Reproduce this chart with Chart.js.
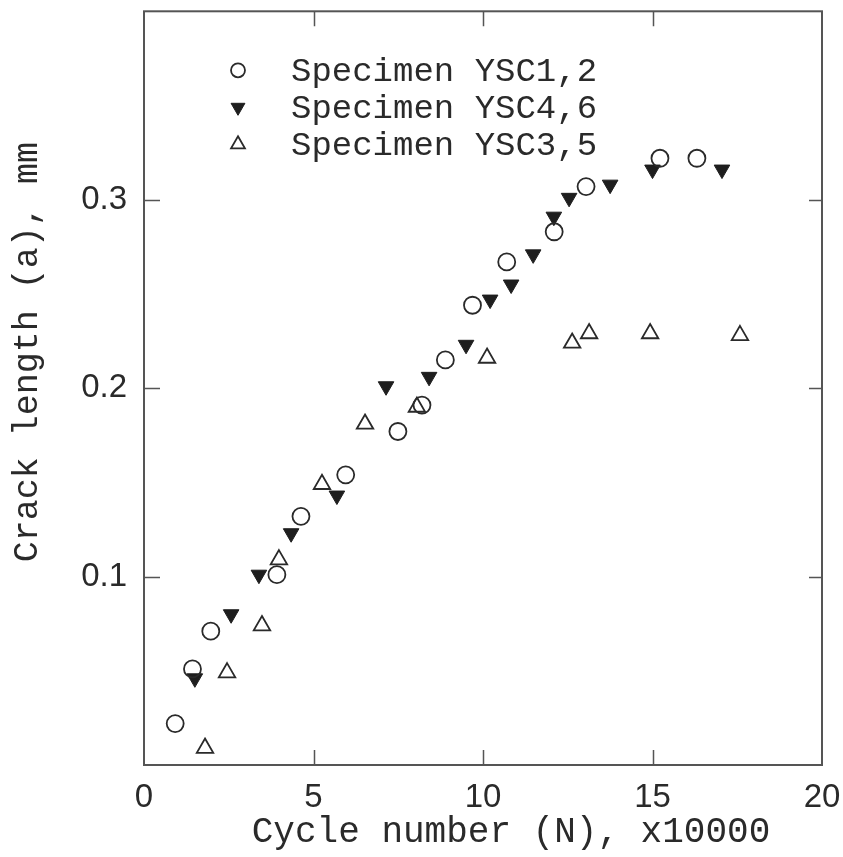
<!DOCTYPE html>
<html>
<head>
<meta charset="utf-8">
<script src="https://cdn.jsdelivr.net/npm/chart.js@4.4.0/dist/chart.umd.min.js"></script>
<style>
  html, body { margin: 0; padding: 0; background: #ffffff; }
  #wrap { width: 843px; height: 857px; }
</style>
</head>
<body>
<div id="wrap"><canvas id="crackChart" width="843" height="857"></canvas></div>
<script>
// Specimen YSC1,2 (open circles)
const ysc12Cycles = [0.92, 1.43, 1.97, 3.92, 4.63, 5.95, 7.49, 8.2, 8.89, 9.69, 10.7, 12.1, 13.04, 15.22, 16.31];
const ysc12Crack = [0.022, 0.051, 0.071, 0.101, 0.132, 0.154, 0.177, 0.191, 0.215, 0.244, 0.267, 0.283, 0.307, 0.322, 0.322];

// Specimen YSC4,6 (filled down triangles)
const ysc46Cycles = [1.5, 2.57, 3.39, 4.34, 5.69, 7.14, 8.41, 9.5, 10.21, 10.83, 11.48, 12.09, 12.54, 13.75, 15.0, 17.05];
const ysc46Crack = [0.046, 0.080, 0.101, 0.123, 0.143, 0.201, 0.206, 0.223, 0.247, 0.255, 0.271, 0.291, 0.301, 0.308, 0.316, 0.316];

// Specimen YSC3,5 (open up triangles)
const ysc35Cycles = [1.8, 2.45, 3.48, 3.98, 5.25, 6.52, 8.05, 10.12, 12.63, 13.13, 14.93, 17.58];
const ysc35Crack = [0.009, 0.049, 0.074, 0.109, 0.149, 0.181, 0.190, 0.216, 0.224, 0.229, 0.229, 0.228];

const seriesLabels = ['Specimen YSC1,2', 'Specimen YSC4,6', 'Specimen YSC3,5'];
const xTitle = 'Cycle number (N), x10000';
const yTitle = 'Crack length (a), mm';

// tick marks / labels
const xTickMarks = [5, 10, 15];
const yTickMarks = [0.1, 0.2, 0.3];
const yTickLabels = ['0.1', '0.2', '0.3'];

const ink = '#2a2a2a';
const monoFont = '"Liberation Mono", "Courier New", monospace';
const sansFont = '"Liberation Sans", Arial, sans-serif';

function toPoints(xs, ys) {
    return xs.map((x, i) => ({ x: x, y: ys[i] }));
}

// frame, inward ticks, axis titles and the in-plot legend
const framePlugin = {
    id: 'frame',
    afterDraw(chart) {
        const ctx = chart.ctx;
        const area = chart.chartArea;
        const xs = chart.scales.x;
        const ys = chart.scales.y;
        ctx.save();
        ctx.strokeStyle = '#555';
        ctx.lineWidth = 2;
        ctx.strokeRect(area.left, area.top, area.right - area.left, area.bottom - area.top);

        ctx.lineWidth = 1.5;
        ctx.beginPath();
        xTickMarks.forEach(v => {
            const px = Math.round(xs.getPixelForValue(v)) + 0.5;
            ctx.moveTo(px, area.bottom);
            ctx.lineTo(px, area.bottom - 15);
            ctx.moveTo(px, area.top);
            ctx.lineTo(px, area.top + 15);
        });
        yTickMarks.forEach(v => {
            const py = Math.round(ys.getPixelForValue(v)) + 0.5;
            ctx.moveTo(area.left, py);
            ctx.lineTo(area.left + 16, py);
            ctx.moveTo(area.right, py);
            ctx.lineTo(area.right - 13, py);
        });
        ctx.stroke();

        // axis titles (sit a bit off-centre in the original)
        ctx.fillStyle = ink;
        ctx.font = '36px ' + monoFont;
        ctx.textAlign = 'center';
        ctx.textBaseline = 'alphabetic';
        ctx.fillText(xTitle, (area.left + area.right) / 2 + 28, 842);
        ctx.save();
        ctx.translate(37, (area.top + area.bottom) / 2 - 36);
        ctx.rotate(-Math.PI / 2);
        ctx.font = '35px ' + monoFont;
        ctx.fillText(yTitle, 0, 0);
        ctx.restore();

        // legend
        const markerX = area.left + 94;
        const textX = area.left + 147;
        const rowY = [area.top + 59, area.top + 96, area.top + 133];
        ctx.font = '34px ' + monoFont;
        ctx.textBaseline = 'middle';
        ctx.textAlign = 'left';
        chart.data.datasets.forEach((ds, i) => {
            ctx.fillStyle = ds.backgroundColor;
            ctx.strokeStyle = ds.borderColor;
            ctx.lineWidth = ds.borderWidth;
            Chart.helpers.drawPoint(ctx, {
                pointStyle: ds.pointStyle,
                rotation: ds.rotation || 0,
                radius: ds.legendRadius,
                borderWidth: ds.borderWidth
            }, markerX, rowY[i]);
            ctx.fillStyle = ink;
            ctx.fillText(ds.label, textX, rowY[i] + 2);
        });
        ctx.restore();
    }
};

const ctx = document.getElementById('crackChart').getContext('2d');
const crackChart = new Chart(ctx, {
    type: 'scatter',
    data: {
        datasets: [{
            label: seriesLabels[0],
            data: toPoints(ysc12Cycles, ysc12Crack),
            pointStyle: 'circle',
            pointRadius: 8.5,
            legendRadius: 7,
            backgroundColor: 'rgba(255,255,255,0)',
            borderColor: ink,
            borderWidth: 1.8
        }, {
            label: seriesLabels[1],
            data: toPoints(ysc46Cycles, ysc46Crack),
            pointStyle: 'triangle',
            rotation: 180,
            pointRotation: 180,
            pointRadius: 9,
            legendRadius: 8,
            backgroundColor: '#1e1e1e',
            borderColor: '#1e1e1e',
            borderWidth: 1
        }, {
            label: seriesLabels[2],
            data: toPoints(ysc35Cycles, ysc35Crack),
            pointStyle: 'triangle',
            pointRadius: 9.5,
            legendRadius: 8,
            backgroundColor: 'rgba(255,255,255,0)',
            borderColor: ink,
            borderWidth: 1.8
        }]
    },
    options: {
        responsive: false,
        animation: false,
        devicePixelRatio: 1,
        layout: {
            padding: { top: 11, right: 21, left: 0, bottom: 0 }
        },
        plugins: {
            legend: { display: false },
            tooltip: { enabled: false }
        },
        scales: {
            x: {
                type: 'linear',
                min: 0,
                max: 20,
                afterFit(scale) {
                    scale.height = 92;
                    scale.paddingLeft = 0;
                    scale.paddingRight = 0;
                },
                border: { display: false },
                grid: { display: false, drawTicks: false },
                ticks: {
                    stepSize: 5,
                    padding: 13,
                    color: ink,
                    font: { family: sansFont, size: 33 }
                }
            },
            y: {
                type: 'linear',
                min: 0,
                max: 0.4,
                afterFit(scale) {
                    scale.width = 144;
                    scale.paddingTop = 0;
                    scale.paddingBottom = 0;
                },
                border: { display: false },
                grid: { display: false, drawTicks: false },
                ticks: {
                    stepSize: 0.1,
                    padding: 17,
                    color: ink,
                    font: { family: sansFont, size: 33 },
                    callback: function(value) {
                        const label = value.toFixed(1);
                        return yTickLabels.includes(label) ? label : '';
                    }
                }
            }
        }
    },
    plugins: [framePlugin]
});
</script>
</body>
</html>
